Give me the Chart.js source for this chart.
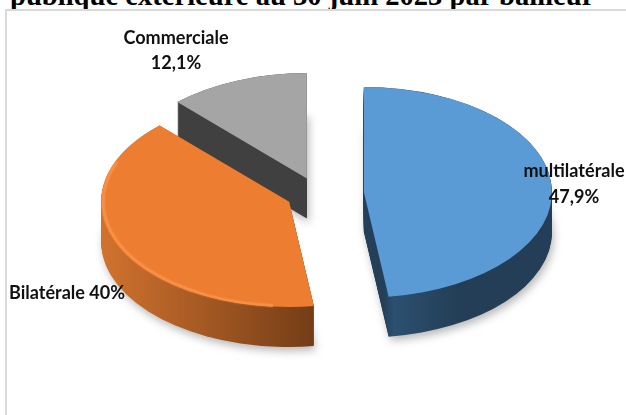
<!DOCTYPE html>
<html lang="fr">
<head>
<meta charset="utf-8">
<title>Dette publique extérieure par bailleur</title>
<script src="https://cdn.jsdelivr.net/npm/chart.js@4"></script>
<style>
  html, body { margin: 0; padding: 0; background: #fff; }
  #page { position: relative; width: 626px; height: 415px; overflow: hidden; background: #fff; }
  #heading {
    position: absolute; left: 10px; top: -20px; white-space: nowrap;
    font: bold 28.6px/32px "Liberation Serif", serif; color: #000;
  }
  #frame {
    position: absolute; left: 5px; top: 9px; width: 640px; height: 430px;
    border: 2px solid #d9d9d9; box-sizing: border-box;
  }
  canvas { position: absolute; left: 0; top: 0; }
</style>
</head>
<body>
<div id="page">
  <div id="heading"></div>
  <div id="frame"></div>
  <canvas id="chart" width="626" height="415"></canvas>
</div>
<script>
// Debt shares by creditor type, clockwise from twelve o'clock
const headingText = "publique extérieure au 30 juin 2023 par bailleur";
const categories = ["multilatérale", "Bilatérale", "Commerciale"];
const shares = [47.9, 40, 12.1];

// Pie styling
const faceColors = ["#5B9BD5", "#ED7D31", "#A5A5A5"];
const explode = [46, 32, 30];
// Horizontal gradient of each slice's side wall: [offset from slice centre, colour]
const sideStops = [
  [[20, "#244059"], [30, "#2C5070"], [95, "#233E56"]],
  [[-185, "#D0722E"], [25, "#743D17"]],
  [[-130, "#404040"], [0, "#404040"]]
];
const tilt = 0.56;
const depth = 40;
const radius = 188;

const pct = v => String(v).replace(".", ",") + "%";

// Label anchors in page pixels, one entry per drawn line
const labelLines = [
  { text: categories[0], x: 574, y: 171 },
  { text: pct(shares[0]), x: 574, y: 197 },
  { text: categories[1] + " " + pct(shares[1]), x: 67, y: 293 },
  { text: categories[2], x: 176, y: 38 },
  { text: pct(shares[2]), x: 176, y: 63 }
];

document.getElementById("heading").textContent = headingText;

// Applies the tilt around the pie centre, with an optional downward shift
function tiltContext(ctx, cy, drop) {
  ctx.translate(0, cy + drop);
  ctx.scale(1, tilt);
  ctx.translate(0, -cy);
}

function slicePoint(arc, i) {
  const mid = (arc.startAngle + arc.endAngle) / 2;
  return { x: arc.x + Math.cos(mid) * explode[i], y: arc.y + Math.sin(mid) * explode[i] };
}

const pie3d = {
  id: "pie3d",
  beforeDatasetsDraw(chart) {
    const ctx = chart.ctx;
    const arcs = chart.getDatasetMeta(0).data;
    const cy = arcs[0].y;

    // Back slices first so the nearer faces cover their sides
    [2, 1, 0].forEach(i => {
      const arc = arcs[i];
      const c = slicePoint(arc, i);
      const stops = sideStops[i];
      const grad = ctx.createLinearGradient(c.x + stops[0][0], 0, c.x + stops[stops.length - 1][0], 0);
      const span = stops[stops.length - 1][0] - stops[0][0];
      stops.forEach(s => grad.addColorStop((s[0] - stops[0][0]) / span, s[1]));

      for (let d = depth; d >= 0; d--) {
        ctx.save();
        tiltContext(ctx, cy, d);
        ctx.beginPath();
        ctx.moveTo(c.x, c.y);
        ctx.arc(c.x, c.y, arc.outerRadius, arc.startAngle, arc.endAngle);
        ctx.closePath();
        ctx.restore();
        ctx.save();
        if (d === depth) {
          ctx.shadowColor = "rgba(0,0,0,0.28)";
          ctx.shadowBlur = 9;
          ctx.shadowOffsetX = 2;
          ctx.shadowOffsetY = 4;
        }
        ctx.fillStyle = grad;
        ctx.fill();
        ctx.restore();
      }
    });

    // Top faces, drawn by the arc elements themselves
    [2, 1, 0].forEach(i => {
      const arc = arcs[i];
      const mid = (arc.startAngle + arc.endAngle) / 2;
      ctx.save();
      tiltContext(ctx, cy, 0);
      ctx.translate(Math.cos(mid) * explode[i], Math.sin(mid) * explode[i]);
      arc.draw(ctx);
      ctx.restore();
    });

    // Bevel highlight along the near rim of the orange slice
    const orange = arcs[1];
    const oc = slicePoint(orange, 1);
    ctx.save();
    tiltContext(ctx, cy, 0);
    ctx.beginPath();
    ctx.arc(oc.x, oc.y, orange.outerRadius - 2, orange.startAngle + 0.22, orange.endAngle - 0.42);
    ctx.restore();
    ctx.save();
    ctx.strokeStyle = "#F88F45";
    ctx.lineWidth = 2.5;
    ctx.shadowColor = "#F88F45";
    ctx.shadowBlur = 2;
    ctx.stroke();
    ctx.restore();

    return false;
  },
  afterDraw(chart) {
    const ctx = chart.ctx;
    ctx.save();
    ctx.fillStyle = "#111";
    ctx.textAlign = "center";
    ctx.textBaseline = "middle";
    ctx.font = "700 19px Lato";
    labelLines.forEach(l => {
      ctx.save();
      ctx.translate(l.x, l.y);
      ctx.scale(0.95, 1);
      ctx.fillText(l.text, 0, 0);
      ctx.restore();
    });
    ctx.restore();
  }
};

new Chart(document.getElementById("chart"), {
  type: "pie",
  data: {
    labels: categories,
    datasets: [{ data: shares, backgroundColor: faceColors, borderWidth: 0 }]
  },
  options: {
    responsive: false,
    animation: false,
    radius: radius,
    layout: { padding: { left: 10, bottom: 27 } },
    plugins: { legend: { display: false }, tooltip: { enabled: false } }
  },
  plugins: [pie3d]
});
</script>
</body>
</html>
